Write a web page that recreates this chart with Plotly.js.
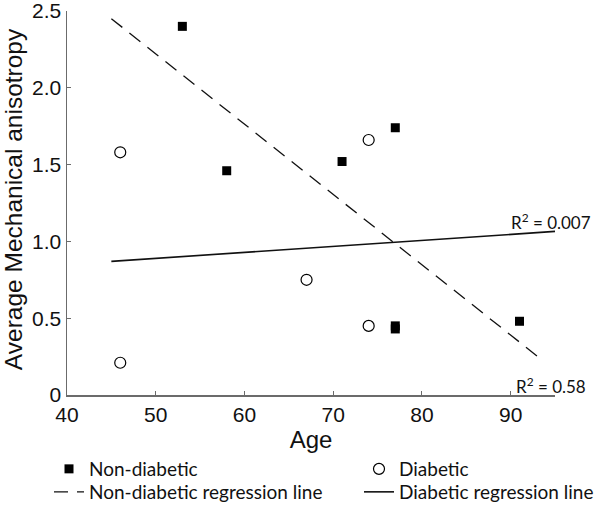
<!DOCTYPE html>
<html>
<head>
<meta charset="utf-8">
<script src="https://cdn.plot.ly/plotly-3.0.1.min.js"></script>
<style>html,body{margin:0;padding:0;background:#fff;}#chart{width:600px;height:505px;}</style>
</head>
<body>
<div id="chart"></div>
<script>
// Data
var nonDiabAge = [53, 58, 71, 77, 77, 77, 91];
var nonDiabMA  = [2.40, 1.46, 1.52, 1.74, 0.45, 0.43, 0.48];
var diabAge = [46, 46, 67, 74, 74];
var diabMA  = [1.58, 0.21, 0.75, 1.66, 0.45];
var nonDiabRegAge = [45, 93.5];
var nonDiabRegMA  = [2.45, 0.23];
var diabRegAge = [45, 95];
var diabRegMA  = [0.87, 1.065];
var xTickVals = [40, 50, 60, 70, 80, 90];
var yTickVals = [0, 0.5, 1.0, 1.5, 2.0, 2.5];
var yTickText = ['0', '0.5', '1.0', '1.5', '2.0', '2.5'];
var r2Labels = ['R<sup>2</sup> = 0.007', 'R<sup>2</sup> = 0.58'];
var yTitle = 'Average Mechanical anisotropy';

var legFont = {family: 'Lato, "Open Sans", sans-serif', size: 19, color: '#111'};
var annFont = {family: 'Lato, "Open Sans", sans-serif', size: 17, color: '#111'};
var axisColor = '#6b6b6b';

var traces = [
  {x: nonDiabRegAge, y: nonDiabRegMA, mode: 'lines', name: 'Non-diabetic regression line',
   line: {color: '#111', width: 1.3, dash: '14px,9px'}, legend: 'legend3', cliponaxis: false},
  {x: diabRegAge, y: diabRegMA, mode: 'lines', name: 'Diabetic regression line',
   line: {color: '#111', width: 1.6}, legend: 'legend4', cliponaxis: false},
  {x: nonDiabAge, y: nonDiabMA, mode: 'markers', name: 'Non-diabetic',
   marker: {symbol: 'square', size: 9, color: '#000'}, legend: 'legend', cliponaxis: false},
  {x: diabAge, y: diabMA, mode: 'markers', name: 'Diabetic',
   marker: {symbol: 'circle-open', size: 11, color: '#000', line: {width: 1.2}}, legend: 'legend2', cliponaxis: false}
];

function leg(xc, yc) {
  return {xref: 'container', yref: 'container', x: xc, y: yc, xanchor: 'left', yanchor: 'middle',
          orientation: 'v', font: legFont, bgcolor: 'rgba(0,0,0,0)', borderwidth: 0};
}
var col1 = 49 / 600, col2 = 359 / 600, row1 = 1 - 469 / 505, row2 = 1 - 492 / 505;

var layout = {
  width: 600, height: 505,
  margin: {l: 67, r: 45, t: 11, b: 110, autoexpand: false},
  paper_bgcolor: '#fff', plot_bgcolor: '#fff',
  font: {family: '"Liberation Sans", Arial, sans-serif', color: '#111'},
  xaxis: {
    range: [40, 95], tickvals: xTickVals, ticks: 'inside', ticklen: 4, tickcolor: axisColor,
    showline: true, linecolor: axisColor, linewidth: 1.5, showgrid: false, zeroline: false,
    tickfont: {size: 21, color: '#111'}, ticklabeloverflow: 'allow',
    title: {text: 'Age', font: {size: 24, color: '#111'}, standoff: 0}
  },
  yaxis: {
    range: [0, 2.5], tickvals: yTickVals, ticktext: yTickText, ticks: 'inside', ticklen: 4, tickcolor: axisColor,
    showline: true, linecolor: axisColor, linewidth: 1.5, showgrid: false, zeroline: false,
    tickfont: {size: 21, color: '#111'}, ticklabeloverflow: 'allow'
  },
  showlegend: true,
  legend: leg(col1, row1),
  legend2: leg(col2, row1),
  legend3: leg(col1, row2),
  legend4: leg(col2, row2),
  annotations: [
    {text: yTitle, xref: 'paper', yref: 'paper', x: -0.1107, y: 0.51, xanchor: 'center', yanchor: 'middle',
     textangle: -90, showarrow: false, font: {family: '"Liberation Sans", Arial, sans-serif', size: 24.5, color: '#111'}},
    {text: r2Labels[0], xref: 'paper', yref: 'y', x: 1.078, y: 1.13, xanchor: 'right', yanchor: 'middle',
     showarrow: false, font: annFont},
    {text: r2Labels[1], xref: 'paper', yref: 'y', x: 1.068, y: 0.06, xanchor: 'right', yanchor: 'middle',
     showarrow: false, font: annFont}
  ]
};

Plotly.newPlot('chart', traces, layout, {displayModeBar: false, staticPlot: true});
</script>
</body>
</html>
